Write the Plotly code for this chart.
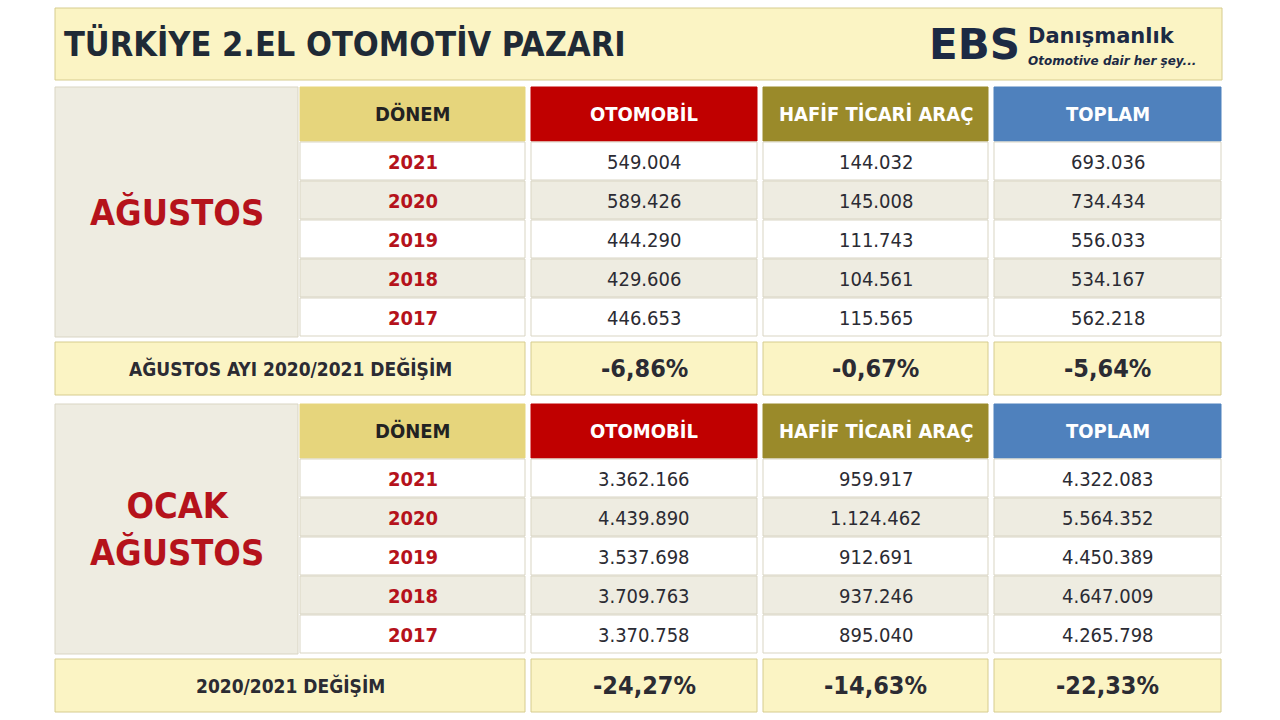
import plotly.graph_objects as go

title = "TÜRKİYE 2.EL OTOMOTİV PAZARI"
columns = ["DÖNEM", "OTOMOBİL", "HAFİF TİCARİ ARAÇ", "TOPLAM"]
years = ["2021", "2020", "2019", "2018", "2017"]

aug_label = "AĞUSTOS"
aug_otomobil = ["549.004", "589.426", "444.290", "429.606", "446.653"]
aug_hta = ["144.032", "145.008", "111.743", "104.561", "115.565"]
aug_toplam = ["693.036", "734.434", "556.033", "534.167", "562.218"]
aug_change_label = "AĞUSTOS AYI 2020/2021 DEĞİŞİM"
aug_change = ["-6,86%", "-0,67%", "-5,64%"]

ytd_label = "OCAK<br>AĞUSTOS"
ytd_otomobil = ["3.362.166", "4.439.890", "3.537.698", "3.709.763", "3.370.758"]
ytd_hta = ["959.917", "1.124.462", "912.691", "937.246", "895.040"]
ytd_toplam = ["4.322.083", "5.564.352", "4.450.389", "4.647.009", "4.265.798"]
ytd_change_label = "2020/2021 DEĞİŞİM"
ytd_change = ["-24,27%", "-14,63%", "-22,33%"]

# layout geometry (pixels)
col_edges = [(55, 298), (300, 525), (531, 757), (763, 988), (994, 1221)]
header_colors = ["#E6D57C", "#C00000", "#9A8A2A", "#4F81BD"]
header_text = ["#222222", "white", "white", "white"]
FONT = "DejaVu Sans Condensed, DejaVu Sans"
DARK = "#2b2b33"
RED = "#B5121B"

shapes = []
annotations = []


def rect(x0, x1, y0, y1, fill, line="#d9d5c3"):
    shapes.append(dict(type="rect", x0=x0, x1=x1, y0=y0, y1=y1, fillcolor=fill,
                       line=dict(color=line, width=1), layer="below"))


def text(x, y, s, size, color, weight="bold"):
    annotations.append(dict(x=x, y=y, text=s, showarrow=False, xanchor="center", yanchor="middle",
                            font=dict(family=FONT, size=size, color=color, weight=weight)))


# title bar
rect(55, 1222, 8, 80, "#FBF4C4", "#d6cc8e")
annotations.append(dict(x=62, y=44, text=title, showarrow=False, xanchor="left", yanchor="middle",
                        font=dict(family=FONT, size=34, color="#1f2a36", weight="bold")))
annotations.append(dict(x=1022, y=44, text="EBS", showarrow=False, xanchor="right", yanchor="middle",
                        font=dict(family="DejaVu Sans", size=42, color="#1c2a44", weight="bold")))
annotations.append(dict(x=1026, y=36, text="Danışmanlık", showarrow=False, xanchor="left", yanchor="middle",
                        font=dict(family="DejaVu Sans", size=21, color="#1c2a44", weight="bold")))
annotations.append(dict(x=1026, y=61, text="<i>Otomotive dair her şey...</i>", showarrow=False,
                        xanchor="left", yanchor="middle",
                        font=dict(family="DejaVu Sans", size=12, color="#1c2a44", weight="bold")))


def block(top, label, otomobil, hta, toplam, change_label, change):
    header_h, row_h = 54, 39
    rows_top = top + header_h + 1
    bottom = rows_top + row_h * len(years)
    rect(col_edges[0][0], col_edges[0][1], top, bottom, "#EEECE1")
    text((col_edges[0][0] + col_edges[0][1]) / 2, (top + bottom) / 2, label, 36, RED)
    for c, (x0, x1) in enumerate(col_edges[1:]):
        rect(x0, x1, top, top + header_h, header_colors[c], header_colors[c])
        text((x0 + x1) / 2, top + header_h / 2, columns[c], 20, header_text[c])
    values = [years, otomobil, hta, toplam]
    for r in range(len(years)):
        y0 = rows_top + r * row_h
        fill = "white" if r % 2 == 0 else "#EEECE1"
        for c, (x0, x1) in enumerate(col_edges[1:]):
            rect(x0, x1, y0, y0 + row_h - 1, fill)
            text((x0 + x1) / 2, y0 + row_h / 2, values[c][r], 20,
                 RED if c == 0 else DARK, "bold" if c == 0 else "normal")
    cy0, cy1 = bottom + 5, bottom + 58
    rect(col_edges[0][0], col_edges[1][1], cy0, cy1, "#FBF4C4", "#d6cc8e")
    text((col_edges[0][0] + col_edges[1][1]) / 2, (cy0 + cy1) / 2, change_label, 19, DARK)
    for c, (x0, x1) in enumerate(col_edges[2:]):
        rect(x0, x1, cy0, cy1, "#FBF4C4", "#d6cc8e")
        text((x0 + x1) / 2, (cy0 + cy1) / 2, change[c], 25, DARK)


block(87, aug_label, aug_otomobil, aug_hta, aug_toplam, aug_change_label, aug_change)
block(404, ytd_label, ytd_otomobil, ytd_hta, ytd_toplam, ytd_change_label, ytd_change)

fig = go.Figure()
fig.update_layout(
    width=1280, height=720, margin=dict(l=0, r=0, t=0, b=0),
    paper_bgcolor="white", plot_bgcolor="white",
    xaxis=dict(range=[0, 1280], visible=False, fixedrange=True),
    yaxis=dict(range=[720, 0], visible=False, fixedrange=True),
    shapes=shapes, annotations=annotations, showlegend=False,
)
# drop the browser's default body margin so the table lines up with the page
fig.write_html("out.html", config={"displayModeBar": False},
               post_script="document.body.style.margin='0';")
